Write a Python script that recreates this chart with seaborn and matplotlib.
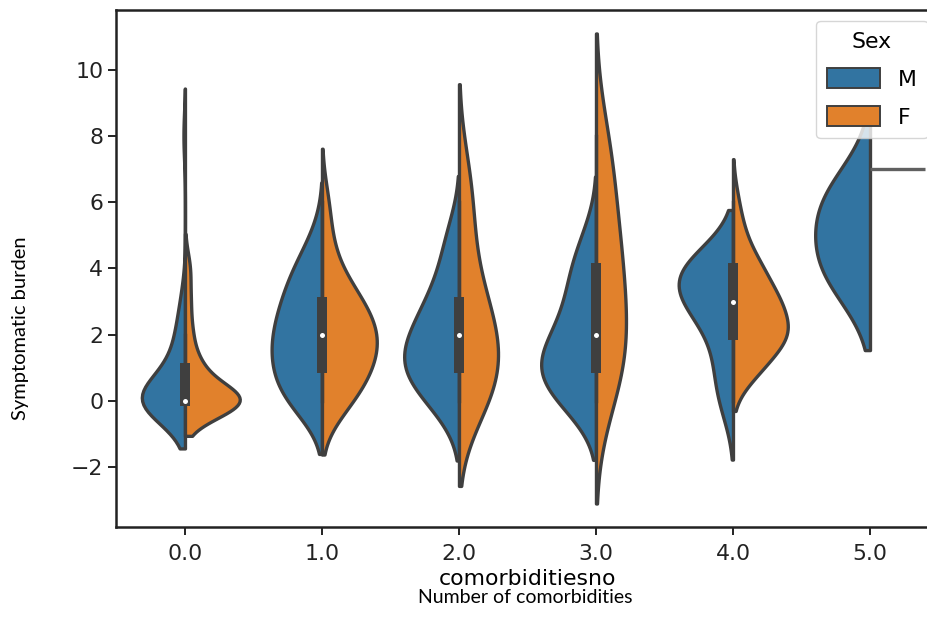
import numpy as np
import pandas as pd
import matplotlib
matplotlib.use("Agg")
import matplotlib.pyplot as plt
from matplotlib.patches import Patch
import seaborn as sns

# ---------------- data ----------------
categories = ["0.0", "1.0", "2.0", "3.0", "4.0", "5.0"]
sexes = ["M", "F"]
burden_levels = [0, 1, 2, 3, 4, 5, 6, 7, 8]

# number of patients at each burden level (0..8)
male_0 = [26, 6, 4, 2, 0, 0, 0, 0, 1]
male_1 = [4, 5, 5, 4, 3, 1, 0, 0, 0]
male_2 = [2, 4, 3, 2, 1, 1, 0, 0, 0]
male_3 = [3, 5, 3, 2, 2, 1, 0, 0, 0]
male_4 = [1, 1, 1, 3, 4, 0, 0, 0, 0]
male_5 = [0, 0, 0, 0, 1, 0, 1, 0, 0]

female_0 = [36, 9, 4, 3, 3, 0, 0, 0, 0]
female_1 = [4, 6, 7, 5, 2, 1, 1, 0, 0]
female_2 = [3, 3, 3, 2, 1, 1, 1, 1, 0]
female_3 = [1, 2, 2, 1, 2, 1, 1, 1, 1]
female_4 = [0, 5, 10, 8, 5, 2, 1, 0, 0]
female_5 = [0, 0, 0, 0, 0, 0, 0, 1, 0]

male_counts = [male_0, male_1, male_2, male_3, male_4, male_5]
female_counts = [female_0, female_1, female_2, female_3, female_4, female_5]

rows = []
for cat, mc, fc in zip(categories, male_counts, female_counts):
    for sex, counts in (("M", mc), ("F", fc)):
        for v in np.repeat(burden_levels, counts):
            rows.append((cat, sex, float(v)))
df = pd.DataFrame(rows, columns=["comorbiditiesno", "Sex", "burden"])

# ---------------- style ----------------
FS = 15.8
LW = 2.4
EDGE = "#3f3f3f"
WIDTH = 0.8
base_colors = ["#1f77b4", "#ff7f0e"]

plt.rcParams["font.family"] = ["DejaVu Sans"]
fig = plt.figure(figsize=(9.28, 6.36), dpi=100)
ax = fig.add_axes([0.1255, 0.1714, 0.8858, 0.8129])

# one call per group so that both halves of a group share one density scale
for k, cat in enumerate(categories):
    sub = df[df["comorbiditiesno"] == cat]
    sizes = sub.groupby("Sex").size()
    sub = sub[sub["Sex"].map(sizes) >= 2]
    sns.violinplot(data=sub, x="comorbiditiesno", y="burden", hue="Sex",
                   order=categories, hue_order=sexes, palette=base_colors,
                   split=True, dodge=True, inner=None, common_norm=True,
                   density_norm="area", cut=2, width=WIDTH,
                   linewidth=LW, linecolor=EDGE, saturation=0.75,
                   legend=False, ax=ax)

# interior box (all data of the group, drawn once at the centre)
for k, cat in enumerate(categories):
    sub = df[df["comorbiditiesno"] == cat]
    sizes = sub.groupby("Sex").size()
    if sizes.min() < 2:
        # single observation: horizontal line on its half
        for sex, n in sizes.items():
            if n == 1:
                val = sub.loc[sub["Sex"] == sex, "burden"].iloc[0]
                side = 1 if sex == sexes[1] else -1
                ax.plot([k, k + side * WIDTH / 2], [val, val],
                        color="#606060", lw=LW, solid_capstyle="butt", zorder=2)
        continue
    vals = sub["burden"].to_numpy()
    q25, q50, q75 = np.percentile(vals, [25, 50, 75])
    lim = 1.5 * (q75 - q25)
    lo = vals[vals >= q25 - lim].min()
    hi = vals[vals <= q75 + lim].max()
    ax.plot([k, k], [lo, hi], lw=LW, color=EDGE, zorder=2)
    ax.plot([k, k], [q25, q75], lw=LW * 3, color=EDGE, zorder=2)
    ax.scatter(k, q50, zorder=3, color="white", edgecolor=EDGE,
               s=np.square(LW * 2), linewidth=1.2)

ax.set_xlim(-0.5, len(categories) - 0.5)
ax.set_ylabel("")
ax.set_xlabel("comorbiditiesno", fontsize=FS, labelpad=4)
ax.tick_params(labelsize=FS, length=6, width=1.4, colors="#222222")
ax.tick_params(axis="x", pad=6)
for s in ax.spines.values():
    s.set_linewidth(1.8)
    s.set_color("#222222")

handles = [Patch(facecolor=sns.desaturate(c, 0.75), edgecolor=EDGE, linewidth=1.4)
           for c in base_colors]
leg = ax.legend(handles, sexes, title="Sex", loc="upper right", fontsize=FS,
                title_fontsize=FS, handlelength=2.4, handleheight=1.0,
                labelspacing=0.75, borderaxespad=0.5, borderpad=0.5)

fig.text(0.022, 0.484, "Symptomatic burden", rotation=90, ha="center", va="center",
         fontsize=14.5, family=["Lato", "DejaVu Sans"])
fig.text(0.566, 0.06, "Number of comorbidities", ha="center", va="center",
         fontsize=14, family=["Lato", "DejaVu Sans"])

fig.savefig("out.png", dpi=100)
